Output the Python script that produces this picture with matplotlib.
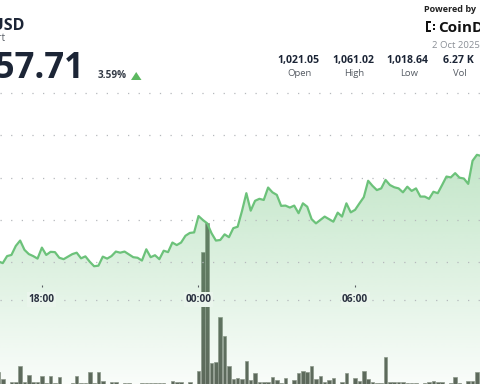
import matplotlib
matplotlib.use("Agg")
import matplotlib.pyplot as plt
import numpy as np
from matplotlib.patches import Polygon, Rectangle
from matplotlib.transforms import blended_transform_factory

plt.rcParams["font.family"] = ["Open Sans", "DejaVu Sans"]

# 10-minute slots, counted from 00:00 on 2 Oct (negative = 1 Oct evening)
first_slot = -46
prices = [
    1020.3, 1019.7, 1022.2, 1022.6, 1025.8, 1027.7, 1024.4, 1022.9, 1022.2, 1021.3,
    1025.2, 1022.6, 1023.7, 1023.6, 1021.6, 1021.1, 1022.0, 1022.9, 1023.4, 1021.4,
    1022.1, 1020.2, 1018.6, 1018.8, 1022.0, 1021.3, 1022.2, 1023.8, 1023.4, 1023.8,
    1022.8, 1021.8, 1021.6, 1020.6, 1024.6, 1021.8, 1022.5, 1021.1, 1024.1, 1023.6,
    1027.0, 1026.1, 1027.0, 1029.4, 1030.4, 1030.6,
    1036.4, 1035.0, 1033.8, 1030.3, 1027.7, 1027.9, 1029.9, 1028.9, 1032.1, 1032.6,
    1038.2, 1044.5, 1038.3, 1041.8, 1042.5, 1042.1, 1046.5, 1044.8, 1043.9, 1040.0,
    1040.1, 1039.4, 1040.1, 1037.4, 1040.9, 1039.7, 1035.3, 1033.8, 1035.0, 1036.2,
    1035.3, 1034.4, 1037.6, 1036.2, 1040.9, 1037.7, 1038.6, 1040.9, 1043.1, 1048.9,
    1047.1, 1045.6, 1046.2, 1049.2, 1047.4, 1046.6, 1046.2, 1044.8, 1046.8, 1045.3,
    1046.2, 1043.3, 1043.3, 1042.5, 1045.0, 1044.5, 1047.4, 1050.4, 1050.1, 1051.6,
    1050.0, 1049.7, 1047.8, 1056.0, 1058.1, 1057.7,
]
volumes = [
    11.7, 4.7, 0.5, 2.3, 2.3, 18.3, 2.3, 9.0, 1.7, 1.7,
    8.0, 1.3, 8.0, 0.7, 7.0, 0.3, 0.3, 0.7, 8.0, 0.7,
    0.7, 11.7, 0.7, 12.0, 3.0, 0.3, 1.7, 1.7, 0.3, 1.3,
    1.3, 0.5, 0.5, 1.0, 1.3, 1.3, 0.7, 1.0, 1.0, 0.5,
    3.0, 1.7, 1.7, 0.3, 2.3, 0.3,
    13.0, 132.0, 161.0, 20.7, 21.7, 67.0, 48.0, 18.0, 4.7, 5.7,
    4.7, 23.3, 4.0, 10.7, 2.3, 2.3, 2.3, 7.3, 4.0, 1.3,
    6.3, 0.3, 4.0, 11.0, 13.3, 12.3, 17.7, 4.7, 8.0, 1.7,
    4.0, 5.7, 0.3, 1.7, 11.0, 0.5, 5.7, 3.0, 13.0, 4.7,
    2.3, 0.7, 0.7, 27.3, 1.7, 1.7, 2.3, 2.3, 1.3, 0.7,
    0.7, 0.3, 0.7, 1.7, 3.0, 1.7, 1.7, 0.3, 0.7, 6.7,
    0.7, 0.3, 3.0, 3.3, 11.7,
]
grid_prices = [1020, 1035, 1050, 1065, 1080]
time_ticks = [-36, 0, 36]
time_labels = ["18:00", "00:00", "06:00"]

price_x = np.arange(first_slot, first_slot + len(prices))
vol_x = np.arange(first_slot, first_slot + len(volumes))

green = "#6cc27a"
navy = "#1c2536"
x_lim = (-45.63, 64.71)
y_lim = (976.84, 1113.0)

fig = plt.figure(figsize=(4.8, 3.84), dpi=100)
fig.patch.set_facecolor("white")

# volume bars sit underneath the price layer
ax_vol = fig.add_axes([0, 0, 1, 1])
ax_vol.bar(vol_x, volumes, width=0.82, color="#5d665b",
           edgecolor="#8e968c", linewidth=0.5)
ax_vol.set_xlim(*x_lim)
ax_vol.set_ylim(0, 384)
ax_vol.axis("off")

ax = fig.add_axes([0, 0, 1, 1], sharex=ax_vol)
ax.patch.set_visible(False)
ax.set_zorder(ax_vol.get_zorder() + 1)

# gradient area under the line
verts = list(zip(price_x, prices)) + [(price_x[-1], y_lim[0]), (price_x[0], y_lim[0])]
area = Polygon(verts, closed=True, facecolor="none", edgecolor="none")
ax.add_patch(area)
grad = np.zeros((256, 1, 4))
grad[:, 0, 0] = 108 / 255
grad[:, 0, 1] = 194 / 255
grad[:, 0, 2] = 122 / 255
grad[:, 0, 3] = np.linspace(0.04, 0.42, 256)
img = ax.imshow(grad, extent=[x_lim[0] - 2, x_lim[1] + 2, y_lim[0], 1060],
                origin="lower", aspect="auto", zorder=1, interpolation="bilinear")
img.set_clip_path(area)

# dotted grid
for gp in grid_prices:
    ax.axhline(gp, color="#b5b8bc", linewidth=0.9, linestyle=(0, (1, 7.5)), zorder=2)

ax.plot(price_x, prices, color=green, linewidth=1.6, solid_joinstyle="round", zorder=4)

# time axis row
trans = blended_transform_factory(ax.transData, ax.transAxes)
ax.plot([0, 1], [0.22, 0.22], transform=ax.transAxes, color="#b5b8bc",
        linewidth=0.9, linestyle=(0, (1, 7.5)), zorder=2)
for t, lab in zip(time_ticks, time_labels):
    ax.text(t, 0.22, lab, transform=trans, ha="center", va="center",
            fontsize=7.3, fontweight="bold", color="#2a3140", zorder=5,
            bbox=dict(boxstyle="square,pad=0.15", facecolor="#eaf5ec", edgecolor="none"))
    ax.plot([t], [0.255], transform=trans, marker="|", markersize=1.5,
            color="#555a60", markeredgewidth=0.8, zorder=5)

ax.set_xlim(*x_lim)
ax.set_ylim(*y_lim)
ax.axis("off")

# header (cropped at the left edge like the original)
def fy(py):
    return 1 - py / 384

def fx(px):
    return px / 480

fig.text(fx(24), fy(30), "BNB USD", ha="right", va="baseline",
         fontsize=11.5, fontweight="bold", color=navy)
fig.text(fx(5), fy(41), "Price Chart", ha="right", va="baseline",
         fontsize=7, color="#555b63")
fig.text(fx(84), fy(78), "1,057.71", ha="right", va="baseline",
         fontsize=25, fontweight="bold", color=navy)
fig.text(fx(98), fy(78), "3.59%", ha="left", va="baseline",
         fontsize=7.2, fontweight="bold", color="#333a45")
fig.patches.append(Polygon([(fx(131), fy(80)), (fx(141.5), fy(80)), (fx(136.2), fy(72))],
                           closed=True, facecolor="#5cb860", edgecolor="none",
                           transform=fig.transFigure, figure=fig))

fig.text(fx(450), fy(10), "Powered by", ha="center", va="center",
         fontsize=6.5, fontweight="bold", color="#222222")
# CoinDesk mark
for (x0, y0, w, h) in [(426, 21, 2, 11), (426, 21, 5, 2), (426, 30, 5, 2),
                       (433, 24, 2, 2), (433, 28, 2, 2)]:
    fig.patches.append(Rectangle((fx(x0), fy(y0 + h)), w / 480, h / 384,
                                 facecolor="#111111", edgecolor="none",
                                 transform=fig.transFigure, figure=fig))
fig.text(fx(438), fy(31.5), "CoinDesk", ha="left", va="baseline",
         fontsize=11, fontweight="bold", color="#111111")
fig.text(fx(455.5), fy(45), "2 Oct 2025", ha="center", va="center",
         fontsize=6.8, color="#8a8f96")

stat_values = ["1,021.05", "1,061.02", "1,018.64", "6.27 K"]
stat_names = ["Open", "High", "Low", "Vol"]
stat_x = [298.3, 353.3, 407.7, 458.5]
for sx, val, name in zip(stat_x, stat_values, stat_names):
    fig.text(fx(sx), fy(60.7), val, ha="center", va="center",
             fontsize=7.6, fontweight="bold", color=navy)
    fig.text(fx(sx + 1), fy(73.5), name, ha="center", va="center",
             fontsize=6.8, color="#555b63")

fig.savefig("out.png", dpi=100, facecolor="white")
